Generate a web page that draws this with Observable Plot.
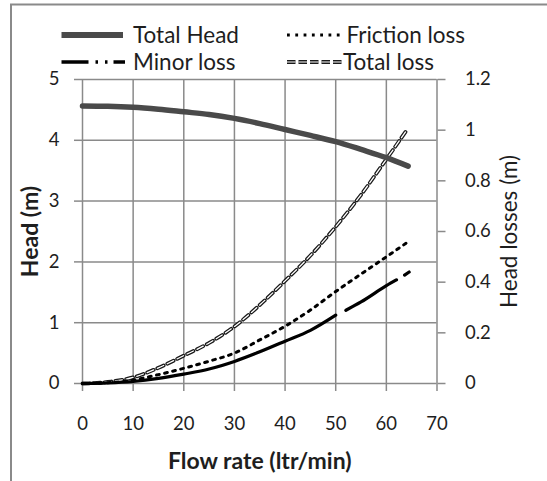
<!DOCTYPE html>
<html>
<head>
<meta charset="utf-8">
<script src="https://cdn.jsdelivr.net/npm/d3@7"></script>
<script src="https://cdn.jsdelivr.net/npm/@observablehq/plot@0.6"></script>
<style>
  html, body { margin: 0; padding: 0; background: #fff; }
  #chart { width: 547px; height: 481px; overflow: hidden; }
</style>
</head>
<body>
<div id="chart"></div>
<script>
// ---- data ----
const xTicks = [0, 10, 20, 30, 40, 50, 60, 70];
const headTicks = [0, 1, 2, 3, 4, 5];
const lossTicks = [0, 0.2, 0.4, 0.6, 0.8, 1.0, 1.2];

// Total Head (m), left axis
const headFlow = [0, 5, 10, 15, 20, 25, 30, 35, 40, 45, 50, 55, 60, 64.3];
const headVals = [4.565, 4.56, 4.543, 4.51, 4.468, 4.425, 4.36, 4.275, 4.177, 4.08, 3.978, 3.85, 3.715, 3.575];

// losses (m), right axis
const lossFlow = [0, 5, 10, 15, 20, 25, 30, 35, 40, 45, 50, 55, 60, 64.2];
const totalLoss = [0, 0.006, 0.024, 0.062, 0.11, 0.16, 0.225, 0.31, 0.405, 0.505, 0.619, 0.745, 0.885, 1.005];
const frictionLoss = [0, 0.003, 0.014, 0.035, 0.06, 0.088, 0.12, 0.172, 0.226, 0.29, 0.363, 0.432, 0.5, 0.558];

const minorFlow = [0, 5, 10, 15, 20, 25, 30, 35, 40, 45, 50, 51, 52, 55, 60, 62, 63, 63.6, 64.5];
const minorLoss = [0, 0.002, 0.008, 0.02, 0.037, 0.057, 0.087, 0.125, 0.167, 0.21, 0.27, NaN, 0.289, 0.322, 0.386, 0.409, NaN, 0.428, 0.44];

const seriesNames = ["Total Head", "Friction loss", "Minor loss", "Total loss"];
const axisTitles = {x: "Flow rate (ltr/min)", yLeft: "Head (m)", yRight: "Head losses (m)"};

// ---- build tables ----
const k = 5 / 1.2; // right axis (0..1.2) mapped onto left axis (0..5)
const head = headFlow.map((x, i) => ({x, y: headVals[i]}));
const total = lossFlow.map((x, i) => ({x, y: totalLoss[i] * k}));
const friction = lossFlow.map((x, i) => ({x, y: frictionLoss[i] * k}));
const minor = minorFlow.map((x, i) => ({x, y: minorLoss[i] * k}));

const GRID = "#8a8a8a";
const INK = "#1e1e1e";
const FONT = "Lato, 'Open Sans', sans-serif";

const plot = Plot.plot({
  width: 547,
  height: 481,
  marginLeft: 82,
  marginRight: 110.5,
  marginTop: 79,
  marginBottom: 98,
  style: {fontFamily: FONT, fontSize: "18.5px", color: INK, background: "#fff"},
  x: {domain: [0, 70]},
  y: {domain: [0, 5]},
  marks: [
    Plot.ruleX(xTicks, {stroke: GRID, strokeWidth: 1.5}),
    Plot.ruleY(headTicks, {stroke: GRID, strokeWidth: 1.5}),
    Plot.axisX(xTicks, {tickSize: 8, tickPadding: 25, stroke: GRID, strokeWidth: 1.5, fill: INK, label: null, tickFormat: d => String(d)}),
    Plot.axisY(headTicks, {anchor: "left", tickSize: 8, tickPadding: 15, stroke: GRID, strokeWidth: 1.5, fill: INK, label: null, tickFormat: d => String(d)}),
    Plot.axisY(lossTicks.map(v => v * k), {anchor: "right", tickSize: 8, tickPadding: 20, stroke: GRID, strokeWidth: 1.5, fill: INK, label: null,
      tickFormat: d => { const v = Math.round(d / k * 10) / 10; return String(v); }}),
    // Total loss: hollow dashes
    Plot.line(total, {x: "x", y: "y", stroke: "#1a1a1a", strokeWidth: 3.8, strokeDasharray: "7 4", curve: "monotone-x"}),
    Plot.line(total, {x: "x", y: "y", stroke: "#fff", strokeWidth: 1.3, strokeDasharray: "7 4", curve: "monotone-x"}),
    // Friction loss: dotted
    Plot.line(friction, {x: "x", y: "y", stroke: "#000", strokeWidth: 3, strokeDasharray: "2.8 5.5", curve: "monotone-x"}),
    // Minor loss
    Plot.line(minor, {x: "x", y: "y", stroke: "#000", strokeWidth: 3.2, curve: "monotone-x"}),
    // Total head
    Plot.line(head, {x: "x", y: "y", stroke: "#4a4a4a", strokeWidth: 5.5, curve: "monotone-x"}),
    // axis titles
    Plot.text([axisTitles.x], {frameAnchor: "bottom", dy: 85, textAnchor: "middle", fontWeight: "bold", fontSize: 23, fill: INK}),
    Plot.text([axisTitles.yLeft], {frameAnchor: "left", dx: -52, textAnchor: "middle", rotate: -90, fontWeight: "bold", fontSize: 23, fill: INK}),
    Plot.text([axisTitles.yRight], {frameAnchor: "right", dx: 72.5, textAnchor: "middle", rotate: -90, fontSize: 22.5, fill: INK})
  ]
});

// outer chart-area border and legend
const svg = d3.select(plot);
svg.append("path").attr("d", "M11,600V4.5H700").attr("fill", "none").attr("stroke", GRID).attr("stroke-width", 2);

const lg = svg.append("g").attr("font-family", FONT).attr("font-size", 22.5).attr("fill", INK).attr("text-anchor", "start");
const legendItems = [
  {name: seriesNames[0], x1: 61.5, x2: 123, y: 35, tx: 133, draw: g => g.attr("stroke", "#4a4a4a").attr("stroke-width", 6)},
  {name: seriesNames[1], x1: 287, x2: 343, y: 35, tx: 346.5, draw: g => g.attr("stroke", "#000").attr("stroke-width", 3).attr("stroke-dasharray", "2.8 5.5")},
  {name: seriesNames[2], x1: 61.5, x2: 125, y: 62, tx: 133, draw: g => g.attr("stroke", "#000").attr("stroke-width", 3.5).attr("stroke-dasharray", "27 7 2.5 7 2.5 6 12")},
  {name: seriesNames[3], x1: 287, x2: 342, y: 62, tx: 343, draw: g => g.attr("stroke", "#1a1a1a").attr("stroke-width", 3.8).attr("stroke-dasharray", "8.5 3")}
];
for (const it of legendItems) {
  it.draw(lg.append("line").attr("x1", it.x1).attr("x2", it.x2).attr("y1", it.y).attr("y2", it.y));
  if (it.name === seriesNames[3]) {
    lg.append("line").attr("x1", it.x1).attr("x2", it.x2).attr("y1", it.y).attr("y2", it.y)
      .attr("stroke", "#fff").attr("stroke-width", 1.2).attr("stroke-dasharray", "8.5 3");
  }
  lg.append("text").attr("x", it.tx).attr("y", it.y).attr("dy", "0.35em").attr("text-anchor", "start").text(it.name);
}

document.getElementById("chart").append(plot);
</script>
</body>
</html>
